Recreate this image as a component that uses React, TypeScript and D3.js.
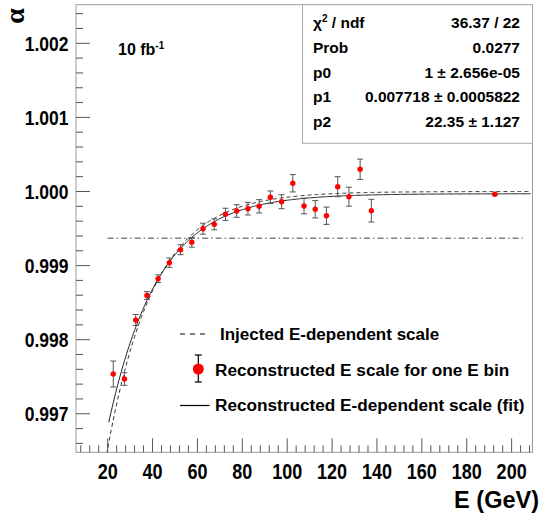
import React from "react";
import * as d3 from "d3";

// ---- data ----
const energies = [22.5, 27.5, 32.5, 37.5, 42.5, 47.5, 52.5, 57.5, 62.5, 67.5, 72.5, 77.5, 82.5, 87.5, 92.5, 97.5, 102.5, 107.5, 112.5, 117.5, 122.5, 127.5, 132.5, 137.5, 192.5];
const alphaValues = [0.997537, 0.997469, 0.998266, 0.998596, 0.998823, 0.999039, 0.999214, 0.999314, 0.999498, 0.999557, 0.999692, 0.999737, 0.999768, 0.9998, 0.999922, 0.999862, 1.000111, 0.999804, 0.99976, 0.999673, 1.000065, 0.99993, 1.0003, 0.999741, 0.999962];
const alphaErrors = [0.000175, 0.000085, 0.000074, 0.000052, 0.000052, 0.000063, 0.000067, 0.000065, 0.000074, 0.000074, 0.000082, 0.000085, 0.000085, 0.00009, 0.000085, 0.000094, 0.000117, 0.000105, 0.000117, 0.000117, 0.000135, 0.000128, 0.000137, 0.000153, 0.00001];

// fit: alpha = p0 - p1 * exp(-E / p2)
const fitParams = [0.99997, 0.007718, 22.35];
const fitRange = [20.5, 209];
// injected scale: alpha = 1 - a * exp(-E / b)
const injectedParams = [1.0, 0.009, 21];
const injectedRange = [19, 209];
// constant (dash-dot) level
const constLevel = 0.99937;
const constRange = [20, 205];

const xTicks = [20, 40, 60, 80, 100, 120, 140, 160, 180, 200];
const yTicks = [0.997, 0.998, 0.999, 1.0, 1.001, 1.002];
const yTickLabels = ["0.997", "0.998", "0.999", "1.000", "1.001", "1.002"];

const statLabels = ["χ2 / ndf", "Prob", "p0", "p1", "p2"];
const statValues = ["36.37 / 22", "0.0277", "1 ± 2.656e-05", "0.007718 ± 0.0005822", "22.35 ± 1.127"];

const legendLabels = [
  "Injected E-dependent scale",
  "Reconstructed E scale for one E bin",
  "Reconstructed E-dependent scale (fit)",
];

const FONT = "'Liberation Sans', Arial, Helvetica, sans-serif";

export default function App() {
  const left = 76, right = 532.5, top = 4.7, bottom = 452.3;
  const x = d3.scaleLinear().domain([5.9, 209.3]).range([left, right]);
  const y = d3.scaleLinear().domain([0.99648, 1.002521]).range([bottom, top]);

  const fitFn = (e: number) => fitParams[0] - fitParams[1] * Math.exp(-e / fitParams[2]);
  const injFn = (e: number) => injectedParams[0] - injectedParams[1] * Math.exp(-e / injectedParams[2]);

  const fitPath = d3
    .line<number>()
    .x((e) => x(e))
    .y((e) => y(fitFn(e)))(d3.range(fitRange[0], fitRange[1], 0.5));
  const injPath = d3
    .line<number>()
    .x((e) => x(e))
    .y((e) => y(injFn(e)))(d3.range(injectedRange[0], injectedRange[1], 0.5));

  const xMinor = d3.range(8, 210, 4).filter((v) => v % 20 !== 0 && x(v) > left + 1 && x(v) < right - 1);
  const yMinor = d3
    .range(0.9966, 1.0026, 0.0002)
    .filter((v) => Math.abs(v * 1000 - Math.round(v * 1000)) > 0.05 && y(v) > top + 1 && y(v) < bottom - 1);

  const tickColor = "#555";
  const statRows = [28, 53, 77.5, 102, 126.5];

  return (
    <svg width={543} height={516} style={{ display: "block", position: "absolute", left: 0, top: 0 }} fontFamily={FONT}>
      <rect x={0} y={0} width={543} height={516} fill="#fff" />
      <defs>
        <clipPath id="frameClip">
          <rect x={left} y={top} width={right - left} height={bottom - top} />
        </clipPath>
      </defs>

      {/* frame */}
      <rect x={left} y={top} width={right - left} height={bottom - top} fill="none" stroke="#999" strokeWidth={1} />

      {/* y ticks */}
      {yTicks.map((t) => (
        <line key={"ym" + t} x1={left} x2={left + 14} y1={y(t)} y2={y(t)} stroke={tickColor} />
      ))}
      {yMinor.map((t) => (
        <line key={"yn" + t} x1={left} x2={left + 7} y1={y(t)} y2={y(t)} stroke={tickColor} />
      ))}
      {/* x ticks */}
      {xTicks.map((t) => (
        <line key={"xm" + t} x1={x(t)} x2={x(t)} y1={bottom} y2={bottom - 14} stroke={tickColor} />
      ))}
      {xMinor.map((t) => (
        <line key={"xn" + t} x1={x(t)} x2={x(t)} y1={bottom} y2={bottom - 7} stroke={tickColor} />
      ))}

      {/* tick labels */}
      {yTicks.map((t, i) => (
        <text
          key={"yl" + t}
          transform={`translate(68.5,${y(t) + 7.5}) scale(1,1.2)`}
          textAnchor="end"
          fontSize={17.5}
          fontWeight="bold"
          fill="#000"
        >
          {yTickLabels[i]}
        </text>
      ))}
      {xTicks.map((t) => (
        <text
          key={"xl" + t}
          transform={`translate(${x(t)},478.5) scale(1,1.2)`}
          textAnchor="middle"
          fontSize={18}
          fontWeight="bold"
          fill="#000"
        >
          {t}
        </text>
      ))}

      {/* axis titles */}
      <text x={539} y={508} textAnchor="end" fontSize={23.5} fontWeight="bold">
        E (GeV)
      </text>
      <text
        transform="translate(24,16) rotate(-90)"
        textAnchor="middle"
        fontSize={28}
        fontWeight="bold"
        fontFamily="'Liberation Serif', 'DejaVu Serif', serif"
      >
        α
      </text>

      {/* luminosity label */}
      <text x={118} y={55} fontSize={16} fontWeight="bold">
        10 fb
        <tspan fontSize={10} dy={-6}>
          -1
        </tspan>
      </text>

      {/* curves */}
      <g clipPath="url(#frameClip)">
        <line
          x1={x(constRange[0])}
          x2={x(constRange[1])}
          y1={y(constLevel)}
          y2={y(constLevel)}
          stroke="#444"
          strokeWidth={1}
          strokeDasharray="6,3,1.5,3"
        />
        <path d={injPath ?? ""} fill="none" stroke="#333" strokeWidth={1} strokeDasharray="4,3" />
        <path d={fitPath ?? ""} fill="none" stroke="#222" strokeWidth={1} />
      </g>

      {/* data points */}
      <g>
        {energies.map((e, i) => {
          const cx = x(e);
          const yv = y(alphaValues[i]);
          const y1 = y(alphaValues[i] + alphaErrors[i]);
          const y2 = y(alphaValues[i] - alphaErrors[i]);
          return (
            <g key={"p" + i}>
              <line x1={cx} x2={cx} y1={y1} y2={y2} stroke="#555" strokeWidth={1} />
              <line x1={cx - 3} x2={cx + 3} y1={y1} y2={y1} stroke="#555" strokeWidth={1} />
              <line x1={cx - 3} x2={cx + 3} y1={y2} y2={y2} stroke="#555" strokeWidth={1} />
              <circle cx={cx} cy={yv} r={2.7} fill="#ff0000" />
            </g>
          );
        })}
      </g>

      {/* stats box */}
      <rect x={302.5} y={top} width={right - 302.5} height={143.3 - top} fill="#fff" stroke="#aaa" strokeWidth={1} />
      {statLabels.map((lab, i) => (
        <text key={"sl" + i} x={313} y={statRows[i]} fontSize={15.5} fontWeight="bold">
          {i === 0 ? (
            <>
              χ
              <tspan fontSize={10} dy={-6}>
                2
              </tspan>
              <tspan dy={6}> / ndf</tspan>
            </>
          ) : (
            lab
          )}
        </text>
      ))}
      {statValues.map((v, i) => (
        <text key={"sv" + i} x={520} y={statRows[i]} fontSize={15.5} fontWeight="bold" textAnchor="end">
          {v}
        </text>
      ))}

      {/* legend */}
      <line x1={180} x2={209} y1={334} y2={334} stroke="#000" strokeWidth={1.2} strokeDasharray="5,5" />
      <text x={220} y={340} fontSize={17} fontWeight="bold">
        {legendLabels[0]}
      </text>
      <line x1={198.3} x2={198.3} y1={355} y2={382} stroke="#000" strokeWidth={1.2} />
      <line x1={194.8} x2={201.8} y1={355} y2={355} stroke="#000" strokeWidth={1.2} />
      <line x1={194.8} x2={201.8} y1={382} y2={382} stroke="#000" strokeWidth={1.2} />
      <circle cx={198.3} cy={369} r={5.5} fill="#ff0000" />
      <text x={215} y={376} fontSize={17.2} fontWeight="bold">
        {legendLabels[1]}
      </text>
      <line x1={180} x2={209.5} y1={405.5} y2={405.5} stroke="#000" strokeWidth={1.2} />
      <text x={215} y={411} fontSize={17.2} fontWeight="bold">
        {legendLabels[2]}
      </text>
    </svg>
  );
}
